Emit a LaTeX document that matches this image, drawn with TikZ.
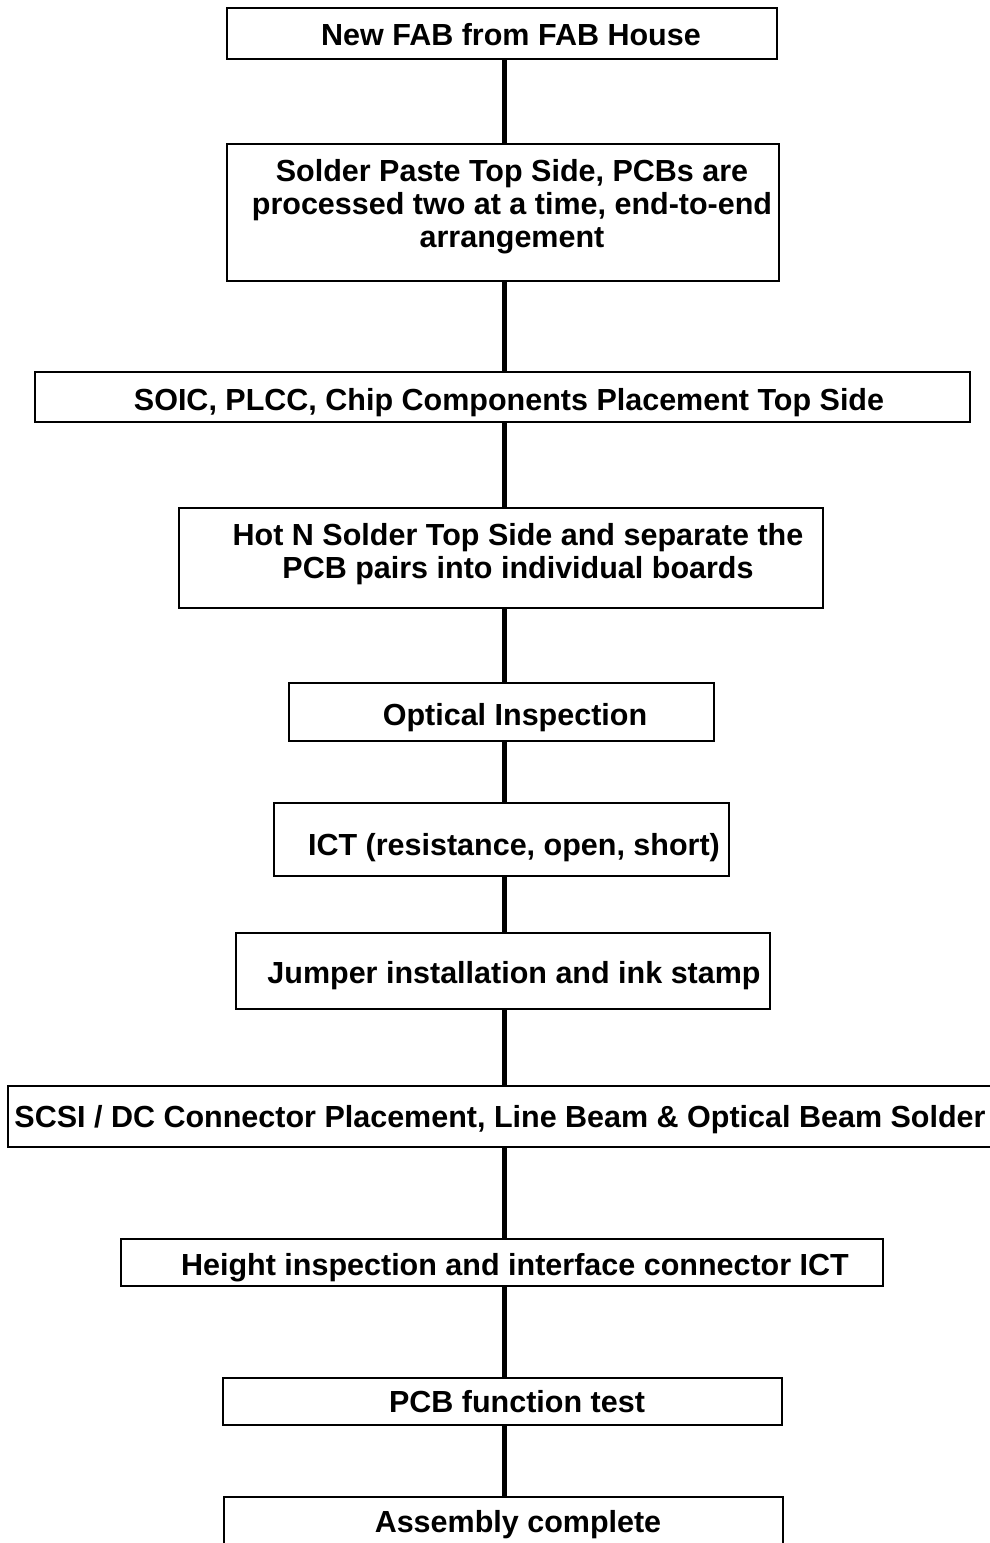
\documentclass[tikz,border=0pt]{standalone}
\usepackage{fontspec}
\setmainfont{Liberation Sans}
\begin{document}
\begin{tikzpicture}[x=1pt,y=-1pt,
  box/.style={draw=black,line width=2.5pt,inner sep=0pt,rectangle},
  txt/.style={inner sep=0pt,font=\fontsize{30.5}{33}\selectfont\bfseries,align=center},
  conn/.style={draw=black,line width=5pt}]
\clip (0,0) rectangle (990,1543);
\fill[white] (0,0) rectangle (990,1543);
\coordinate (axis) at (504,0);
% boxes
\node[box,minimum width=550pt,minimum height=51pt]  (b1)  at (502,33.5)   {};
\node[box,minimum width=552pt,minimum height=137pt] (b2)  at (503,212.5)  {};
\node[box,minimum width=935pt,minimum height=50pt]  (b3)  at (502.5,397)  {};
\node[box,minimum width=644pt,minimum height=100pt] (b4)  at (501,558)    {};
\node[box,minimum width=425pt,minimum height=58pt]  (b5)  at (501.5,712)  {};
\node[box,minimum width=455pt,minimum height=73pt]  (b6)  at (501.5,839.5){};
\node[box,minimum width=534pt,minimum height=76pt]  (b7)  at (503,971)    {};
\node[box,minimum width=992pt,minimum height=61pt]  (b8)  at (504,1116.5) {};
\node[box,minimum width=762pt,minimum height=47pt]  (b9)  at (502,1262.5) {};
\node[box,minimum width=559pt,minimum height=47pt]  (b10) at (502.5,1401.5){};
\node[box,minimum width=559pt,minimum height=63pt]  (b11) at (503.5,1528.5){};
% texts
\node[txt,anchor=base]  (t1)  at (511,45)   {New FAB from FAB House};
\node[txt,anchor=north] (t2)  at (512,159)  {Solder Paste Top Side, PCBs are\\processed two at a time, end-to-end\\arrangement};
\node[txt,anchor=base]  (t3)  at (509,410)  {SOIC, PLCC, Chip Components Placement Top Side};
\node[txt,anchor=north] (t4)  at (518,523)  {Hot N Solder Top Side and separate the\\PCB pairs into individual boards};
\node[txt,anchor=base]  (t5)  at (515,725)  {Optical Inspection};
\node[txt,anchor=base]  (t6)  at (514,855)  {ICT (resistance, open, short)};
\node[txt,anchor=base]  (t7)  at (514,983)  {Jumper installation and ink stamp};
\node[txt,anchor=base]  (t8)  at (500,1127) {SCSI / DC Connector Placement, Line Beam \& Optical Beam Solder};
\node[txt,anchor=base]  (t9)  at (515,1275) {Height inspection and interface connector ICT};
\node[txt,anchor=base]  (t10) at (517,1412) {PCB function test};
\node[txt,anchor=base]  (t11) at (518,1532) {Assembly complete};
% connectors
\foreach \a/\b in {b1/b2,b2/b3,b3/b4,b4/b5,b5/b6,b6/b7,b7/b8,b8/b9,b9/b10,b10/b11}
  \draw[conn] (\a.south -| axis) -- (\b.north -| axis);
\end{tikzpicture}
\end{document}
